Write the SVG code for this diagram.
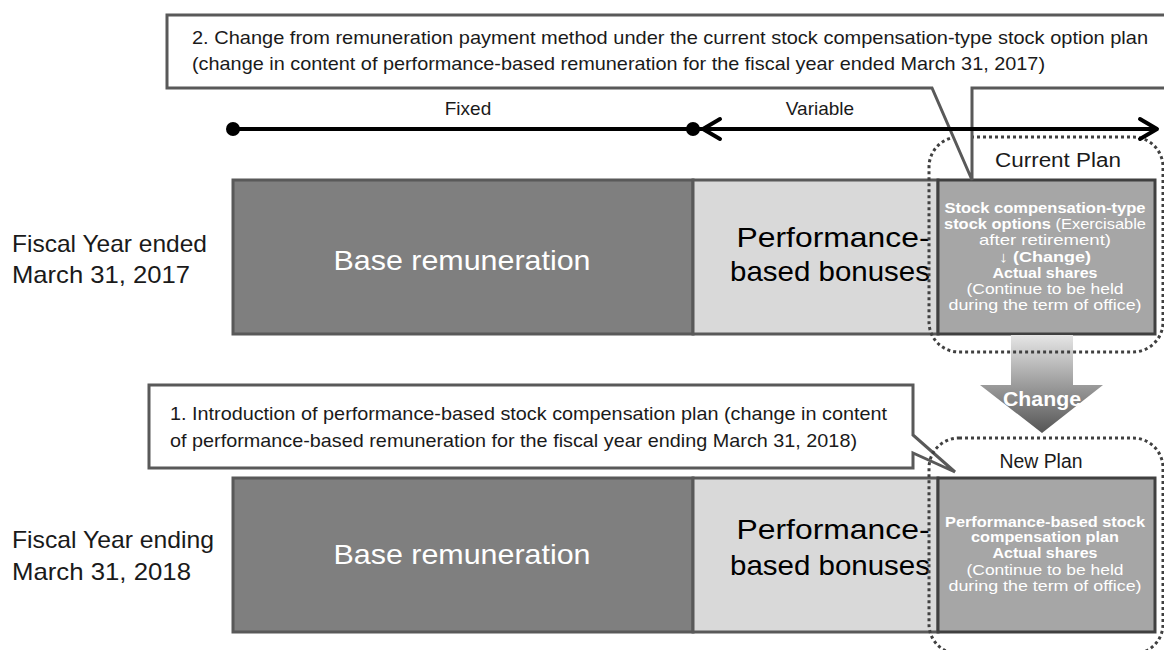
<svg xmlns="http://www.w3.org/2000/svg" width="1164" height="650" viewBox="0 0 1164 650">
<style>
text{font-family:"Liberation Sans",Arial,sans-serif;}
.lbl{font-size:24px;fill:#1a1a1a;}
.call{font-size:19px;fill:#1a1a1a;}
.callout{fill:#fff;stroke:#595959;stroke-width:3;stroke-linejoin:miter;}
.base{fill:#7f7f7f;stroke:#595959;stroke-width:3;}
.bonus{fill:#d9d9d9;stroke:#595959;stroke-width:3;}
.plan{fill:#a6a6a6;stroke:#404040;stroke-width:3;}
.dot{fill:none;stroke:#404040;stroke-width:3;stroke-dasharray:3 3;}
.big{font-size:28px;text-anchor:middle;}
.w{fill:#fff;}
.pt{font-size:15px;fill:#fff;text-anchor:middle;}
.b{font-weight:bold;}
.axis{stroke:#000;stroke-width:4;fill:none;stroke-linecap:round;stroke-linejoin:round;}
</style>
<defs>
<linearGradient id="g" x1="0" y1="0" x2="0" y2="1">
<stop offset="0" stop-color="#e6e6e6"/>
<stop offset="1" stop-color="#555"/>
</linearGradient>
</defs>
<rect width="1164" height="650" fill="#fff"/>

<g id="label-2017">
<text class="lbl" x="12" y="252" textLength="195" lengthAdjust="spacingAndGlyphs">Fiscal Year ended</text>
<text class="lbl" x="12" y="283" textLength="178" lengthAdjust="spacingAndGlyphs">March 31, 2017</text>
</g>
<g id="label-2018">
<text class="lbl" x="12" y="548" textLength="202" lengthAdjust="spacingAndGlyphs">Fiscal Year ending</text>
<text class="lbl" x="12" y="580" textLength="179" lengthAdjust="spacingAndGlyphs">March 31, 2018</text>
</g>

<g id="row1-base">
<rect class="base" x="233" y="180" width="460" height="154"/>
<text class="big w" x="462" y="270" textLength="257" lengthAdjust="spacingAndGlyphs">Base remuneration</text>
</g>
<g id="row1-bonus">
<rect class="bonus" x="693" y="180" width="245" height="154"/>
<text class="big" x="833" y="247" textLength="193" lengthAdjust="spacingAndGlyphs">Performance-</text>
<text class="big" x="830" y="281" textLength="200" lengthAdjust="spacingAndGlyphs">based bonuses</text>
</g>
<g id="row1-plan">
<rect class="plan" x="938" y="180" width="217" height="154"/>
<text class="pt b" x="1045" y="213" textLength="201" lengthAdjust="spacingAndGlyphs">Stock compensation-type</text>
<text class="pt" x="1045" y="229" textLength="202" lengthAdjust="spacingAndGlyphs"><tspan class="b">stock options</tspan> (Exercisable</text>
<text class="pt" x="1045" y="245" textLength="132" lengthAdjust="spacingAndGlyphs">after retirement)</text>
<text class="pt" x="1045" y="262" textLength="92" lengthAdjust="spacingAndGlyphs">↓ <tspan class="b">(Change)</tspan></text>
<text class="pt b" x="1045" y="278" textLength="105" lengthAdjust="spacingAndGlyphs">Actual shares</text>
<text class="pt" x="1045" y="294" textLength="157" lengthAdjust="spacingAndGlyphs">(Continue to be held</text>
<text class="pt" x="1045" y="310" textLength="193" lengthAdjust="spacingAndGlyphs">during the term of office)</text>
</g>

<g id="row2-base">
<rect class="base" x="233" y="478" width="460" height="154"/>
<text class="big w" x="462" y="564" textLength="257" lengthAdjust="spacingAndGlyphs">Base remuneration</text>
</g>
<g id="row2-bonus">
<rect class="bonus" x="693" y="478" width="245" height="154"/>
<text class="big" x="833" y="539" textLength="193" lengthAdjust="spacingAndGlyphs">Performance-</text>
<text class="big" x="830" y="575" textLength="200" lengthAdjust="spacingAndGlyphs">based bonuses</text>
</g>
<g id="row2-plan">
<rect class="plan" x="938" y="478" width="217" height="154"/>
<text class="pt b" x="1045" y="527" textLength="200" lengthAdjust="spacingAndGlyphs">Performance-based stock</text>
<text class="pt b" x="1045" y="542" textLength="148" lengthAdjust="spacingAndGlyphs">compensation plan</text>
<text class="pt b" x="1045" y="558" textLength="105" lengthAdjust="spacingAndGlyphs">Actual shares</text>
<text class="pt" x="1045" y="575" textLength="157" lengthAdjust="spacingAndGlyphs">(Continue to be held</text>
<text class="pt" x="1045" y="591" textLength="193" lengthAdjust="spacingAndGlyphs">during the term of office)</text>
</g>

<g id="change-arrow">
<path d="M1011,335 H1073 V385 H1103 L1042,433 L980,385 H1011 Z" fill="url(#g)"/>
<text x="1042" y="406" font-size="21" font-weight="bold" fill="#fff" text-anchor="middle" textLength="78" lengthAdjust="spacingAndGlyphs">Change</text>
</g>

<g id="callout-1">
<path class="callout" d="M149,385 H913 V435 L955,472 L913,453 V468 H149 Z"/>
<text class="call" x="170" y="420" textLength="717" lengthAdjust="spacingAndGlyphs">1. Introduction of performance-based stock compensation plan (change in content</text>
<text class="call" x="170" y="447" textLength="687" lengthAdjust="spacingAndGlyphs">of performance-based remuneration for the fiscal year ending March 31, 2018)</text>
</g>

<g id="new-plan">
<rect class="dot" x="929" y="438" width="234" height="216" rx="30" ry="30"/>
<text x="1041" y="468" font-size="20" fill="#1a1a1a" text-anchor="middle" textLength="83" lengthAdjust="spacingAndGlyphs">New Plan</text>
</g>

<g id="current-plan">
<rect class="dot" x="929" y="137" width="234" height="215" rx="30" ry="30"/>
<text x="1058" y="167" font-size="20" fill="#1a1a1a" text-anchor="middle" textLength="126" lengthAdjust="spacingAndGlyphs">Current Plan</text>
</g>

<g id="callout-2">
<path class="callout" d="M167,15 H1170 V88 H972 V180 L932,88 H167 Z"/>
<text class="call" x="192" y="44" textLength="956" lengthAdjust="spacingAndGlyphs">2. Change from remuneration payment method under the current stock compensation-type stock option plan</text>
<text class="call" x="192" y="70" textLength="853" lengthAdjust="spacingAndGlyphs">(change in content of performance-based remuneration for the fiscal year ended March 31, 2017)</text>
</g>

<g id="connectors">
<line class="axis" x1="233" y1="129" x2="1155" y2="129"/>
<circle cx="233" cy="129" r="7" fill="#000"/>
<circle cx="693" cy="129" r="7" fill="#000"/>
<polyline class="axis" points="720,119 703,129 720,139"/>
<polyline class="axis" points="1140,119 1157,129 1140,139"/>
<text x="468" y="115" font-size="19" fill="#1a1a1a" text-anchor="middle">Fixed</text>
<text x="820" y="115" font-size="19" fill="#1a1a1a" text-anchor="middle">Variable</text>
</g>
</svg>
